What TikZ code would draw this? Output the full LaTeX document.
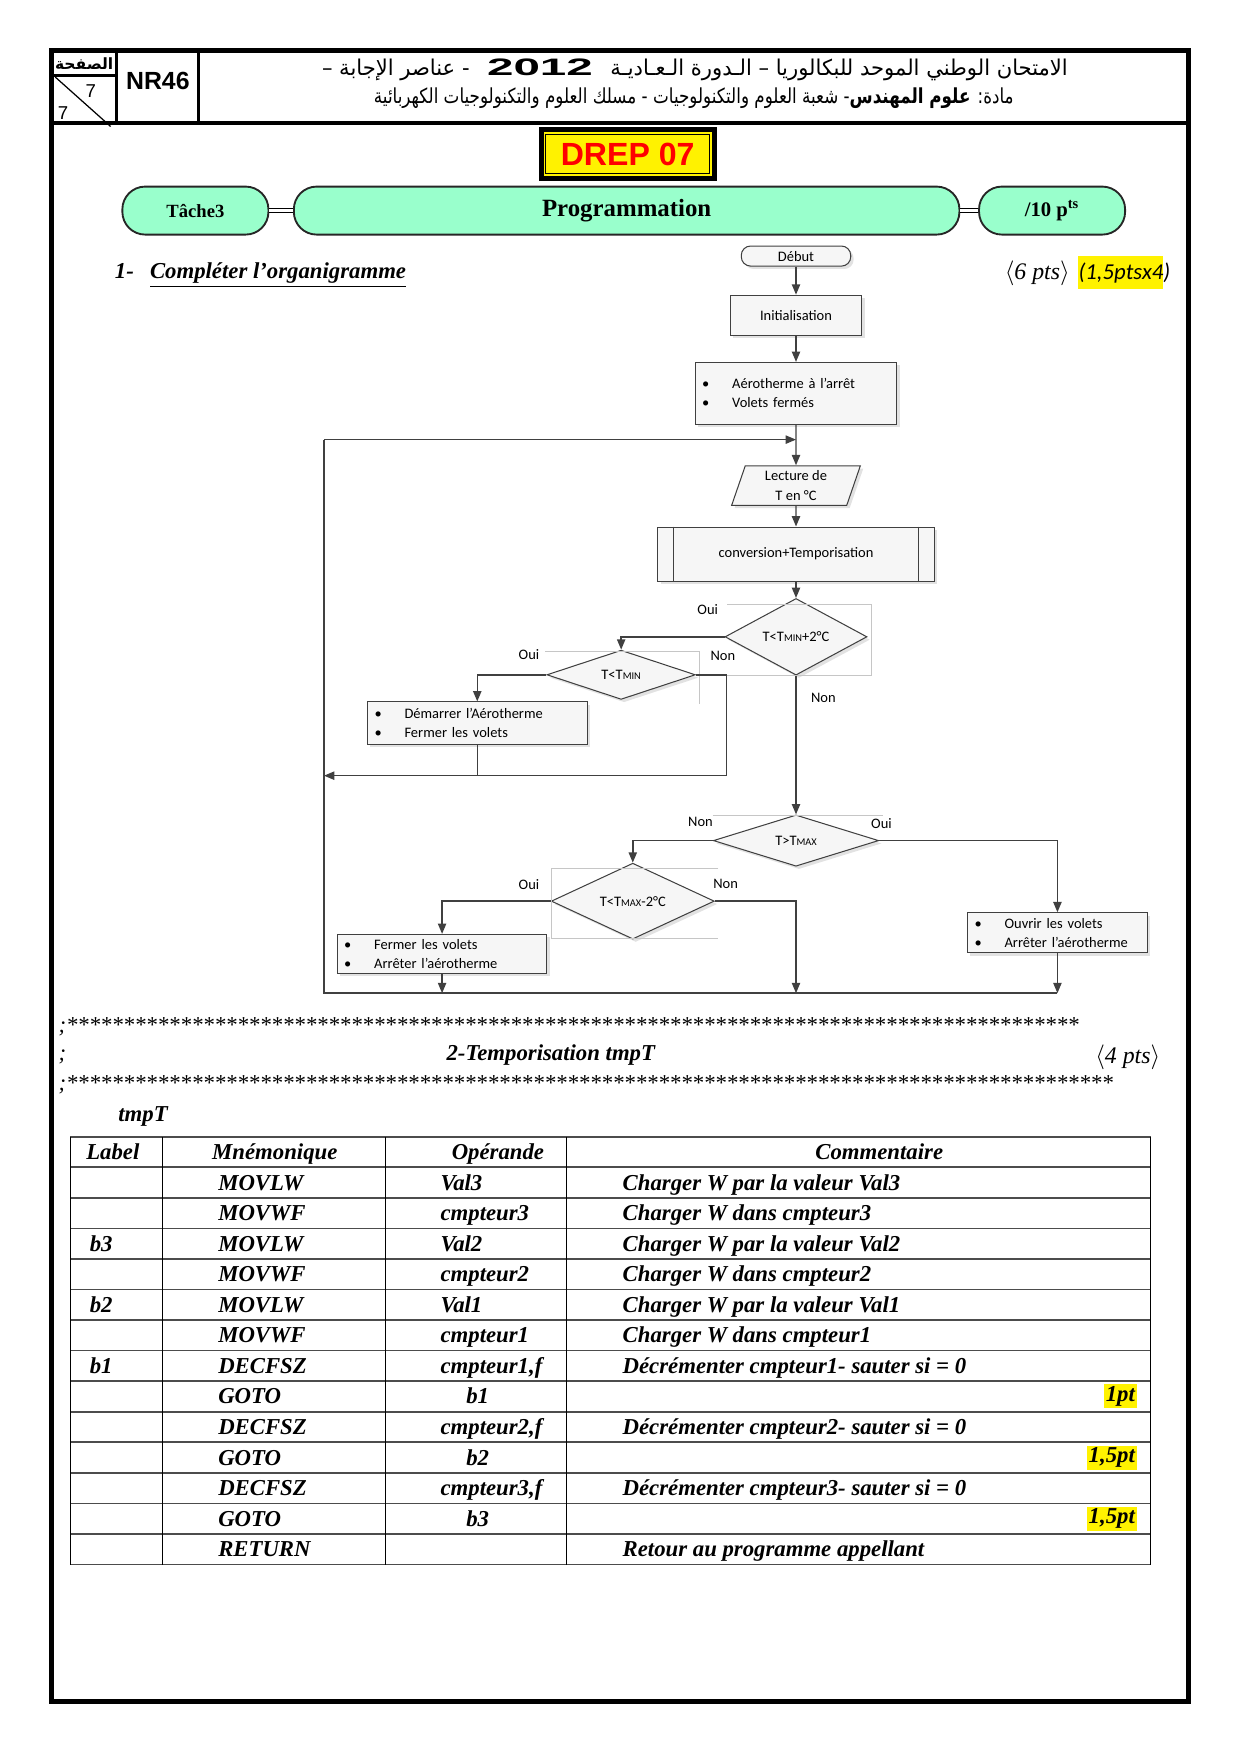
\documentclass[tikz,border=0pt]{standalone}
\usepackage{fontspec}
\usepackage{graphicx}
\setmainfont{Liberation Serif}
\newfontfamily\flowfont{Carlito}
\newfontfamily\arialfont{Liberation Sans}
\newfontfamily\arabicfont[Script=Arabic]{DejaVu Sans}
\TeXXeTstate=1
\usetikzlibrary{arrows.meta,shapes.geometric,shadows}
\definecolor{menthe}{RGB}{153,255,204}
\definecolor{trait}{RGB}{64,64,64}
\newcommand{\puce}[1]{\makebox[14.5pt][l]{\textbullet}#1}
\newcommand{\petit}[1]{{\fontsize{5}{6}\selectfont #1}}
\tikzset{
  fl/.style={trait, line width=0.7pt, -{Triangle[length=5pt,width=4pt]}},
  lien/.style={trait, line width=0.7pt},
  boite/.style={draw=trait, line width=0.5pt, fill=gray!7, inner sep=0pt,
    drop shadow={shadow xshift=1.4pt, shadow yshift=-1.4pt, fill=gray!45},
    font=\flowfont\fontsize{7}{9.2}\selectfont},
  puces/.style={boite, inner xsep=3.4pt, text width=#1, align=left},
  choix/.style={boite, diamond},
  rep/.style={font=\flowfont\fontsize{7}{8}\selectfont, inner sep=0pt},
  cadre/.style={gray!45, line width=0.4pt},
  pilule/.style={draw=black!85, line width=0.9pt, fill=menthe, rounded corners=11pt, minimum height=23.2pt},
  tab/.style={font=\bfseries\itshape\fontsize{11}{13}\selectfont, inner sep=0pt, anchor=base west},
  hligne/.style={black!70, line width=0.8pt},
  vligne/.style={black, line width=0.5pt},
}
\begin{document}
\begin{tikzpicture}[x=0.54pt,y=-0.54pt]
\useasboundingbox (0,0) rectangle (1110,1570);

% cadre et entete
\draw[line width=2.3pt] (46,45) rectangle (1064,1523);
\draw[line width=1.6pt] (46,110) -- (1064,110);
\draw[line width=1.4pt] (104.6,45) -- (104.6,110) (178,45) -- (178,110);
\draw[line width=1.2pt] (46,67.7) -- (104.6,67.7);
\draw[line width=0.6pt] (49.5,69) -- (99,113.2);
\node (page) at (75.3,56.5) {\arabicfont\bfseries\fontsize{7.5}{8}\selectfont\beginR الصفحة\endR};
\node (num1) at (81.3,81.8) {\arialfont\fontsize{9}{10}\selectfont 7};
\node (num2) at (56.5,101.2) {\arialfont\fontsize{9}{10}\selectfont 7};
\node (code) at (141.3,72.8) {\arialfont\bfseries\fontsize{12}{14}\selectfont NR46};
\node (entete1) at (622,62.3) {\arabicfont\fontsize{10.5}{12}\selectfont
  \scalebox{0.97}[1]{\beginR - عناصر الإجابة –\endR}\ \,
  \scalebox{2}[1]{\arialfont\bfseries\fontsize{11.5}{12}\selectfont 2012}\ \,
  \scalebox{0.97}[1]{\beginR الامتحان الوطني الموحد للبكالوريا – الـدورة الـعـاديـة\endR}};
\node (entete2) at (621,88.3) {\scalebox{0.81}[1]{\arabicfont\fontsize{10}{12}\selectfont\beginR مادة: {\bfseries علوم المهندس}- شعبة العلوم والتكنولوجيات - مسلك العلوم والتكنولوجيات الكهربائية\endR}};

% DREP
\filldraw[black] (482.7,114) rectangle (641,161.6);
\filldraw[fill=yellow, draw=black, line width=0.4pt] (486,117.5) rectangle (637.5,158);
\draw[black, line width=0.5pt] (488.5,120) rectangle (635,155.5);
\node (drep) at (561.8,138.6) {\arialfont\bfseries\fontsize{15.5}{17}\selectfont\color{red}DREP 07};

% bandeau
\node[pilule, minimum width=70.6pt] (tache) at (174.9,188.5) {\bfseries\fontsize{9}{10}\selectfont Tâche3};
\node[pilule, minimum width=321.7pt] (prog) at (560.9,188.5) {\bfseries\fontsize{12}{14}\selectfont Programmation};
\node[pilule, minimum width=70.6pt] (note) at (941.7,188.5) {\bfseries\fontsize{10}{12}\selectfont /10 p\textsuperscript{ts}};
\draw[double=white, double distance=1.2pt, line width=0.6pt] (tache) -- (prog);
\draw[double=white, double distance=1.2pt, line width=0.6pt] (prog) -- (note);

\node[anchor=west, inner sep=0pt] (q1) at (102.5,246) {\bfseries\itshape\fontsize{11}{13}\selectfont 1-\hspace{7.8pt}\underline{Compléter l’organigramme}};
\node[anchor=west, inner sep=0pt] (pts1) at (899,244.5) {\fontsize{11.5}{13}\selectfont$\langle$\textit{6 pts}$\rangle$};
\fill[yellow] (964.7,229.2) rectangle (1041,259.1);
\node[anchor=west, inner sep=0pt] (bareme) at (965,244.5) {\flowfont\itshape\fontsize{11}{13}\selectfont (1,5ptsx4)};

% organigramme
\node[boite, rounded corners=4.5pt, minimum width=52.9pt, minimum height=9.7pt] (debut) at (712.5,229.2) {Début};
\node[boite, minimum width=63.7pt, minimum height=19.4pt] (init) at (712.5,282.2) {Initialisation};
\node[puces=90.7pt, minimum height=29.8pt] (etat0) at (712.5,352) {\puce{Aérotherme à l’arrêt}\\\puce{Volets fermés}};
\node[boite, trapezium, trapezium left angle=65, trapezium right angle=115, trapezium stretches body,
  minimum width=62.2pt, minimum height=19.1pt, align=center] (lecture) at (712.5,434.6) {Lecture de\\T en °C};
\node[boite, minimum width=133.6pt, minimum height=26.1pt] (conv) at (712.5,495.9) {conversion+Temporisation};
\draw[trait, line width=0.5pt] ([xshift=7.8pt]conv.north west) -- ([xshift=7.8pt]conv.south west);
\draw[trait, line width=0.5pt] ([xshift=-7.8pt]conv.north east) -- ([xshift=-7.8pt]conv.south east);
\node[choix, minimum width=68.6pt, minimum height=32.4pt] (d1) at (712.5,570) {T<T\petit{MIN}+2°C};
\node[choix, minimum width=71.8pt, minimum height=23.8pt] (d2) at (556,604) {T<T\petit{MIN}};
\node[puces=99.3pt, minimum height=20.4pt] (act1) at (427.2,647.2) {\puce{Démarrer l’Aérotherme}\\\puce{Fermer les volets}};
\node[choix, minimum width=79.9pt, minimum height=24.8pt] (d3) at (712.5,752.4) {T>T\petit{MAX}};
\node[choix, minimum width=78.8pt, minimum height=31.3pt] (d4) at (566.4,806.6) {T<T\petit{MAX}-2°C};
\node[puces=94.6pt, minimum height=18.7pt] (act2) at (395.7,853.7) {\puce{Fermer les volets}\\\puce{Arrêter l’aérotherme}};
\node[puces=80.1pt, minimum height=19.4pt] (act3) at (946.5,835) {\puce{Ouvrir les volets}\\\puce{Arrêter l’aérotherme}};

\draw[cadre] (651,541) -- (779.6,541) -- (779.6,604.6) -- (624.4,604.6);
\draw[cadre] (488,583) -- (626,583) -- (626,629.8);
\draw[cadre] (637.8,729.5) -- (790.3,729.5);
\draw[cadre] (643.1,777.7) -- (493.3,777.7) -- (493.3,839.9) -- (643.1,839.9);

\coordinate (entree) at (712.5,393.5);
\coordinate (retour) at (650.1,694.3);
\coordinate (boucle) at (290,889);

\draw[fl] (debut.south) -- (init.north);
\draw[fl] (init.south) -- (etat0.north);
\draw[fl] (etat0.south) -- (lecture.north);
\draw[fl] (lecture.south) -- (conv.north);
\draw[fl] (conv.south) -- (d1.north);
\draw[fl] (d1.south) -- (d3.north);
\draw[fl] (d1.west) -| (d2.north);
\draw[fl] (d2.west) -| (act1.north);
\draw[lien] (d2.east) -| (retour);
\draw[lien] (act1.south) -- (act1.south |- retour);
\draw[fl] (retour) -- (retour -| boucle);
\draw[fl] (d3.west) -| (d4.north);
\draw[fl] (d3.east) -| (act3.north);
\draw[fl] (d4.west) -| (act2.north);
\draw[fl] (d4.east) -| (d3.south |- boucle);
\draw[fl] (act2.south) -- (act2.south |- boucle);
\draw[fl] (act3.south) -- (act3.south |- boucle);
\draw[lien] (act3.south |- boucle) -- (boucle) -- (boucle |- entree);
\draw[fl] (boucle |- entree) -- (entree);

\node[rep] (oui1) at (633.5,546) {Oui};
\node[rep] (non2) at (647,587.5) {Non};
\node[rep] (oui2) at (473.5,585.5) {Oui};
\node[rep] (non1) at (737,625) {Non};
\node[rep] (non3) at (627,735.5) {Non};
\node[rep] (oui3) at (789,737) {Oui};
\node[rep] (oui4) at (473.5,792) {Oui};
\node[rep] (non4) at (649.5,791) {Non};

% temporisation
\node[anchor=base west, inner sep=0pt] (etoiles1) at (52,924.5) {\itshape\fontsize{11}{13}\selectfont ;\foreach \k in {1,...,89}{*}};
\node[anchor=base west, inner sep=0pt] (pv) at (52,949.5) {\itshape\fontsize{11}{13}\selectfont ;};
\node[anchor=base, inner sep=0pt] (titre2) at (493,949.5) {\bfseries\itshape\fontsize{11}{13}\selectfont 2-Temporisation tmpT};
\node[anchor=base west, inner sep=0pt] (pts2) at (980,952) {\fontsize{11.5}{13}\selectfont$\langle$\textit{4 pts}$\rangle$};
\node[anchor=base west, inner sep=0pt] (etoiles2) at (52,976) {\itshape\fontsize{11}{13}\selectfont ;\foreach \k in {1,...,92}{*}};
\node[tab] (sp) at (105.6,1004) {tmpT};

% tableau
\foreach \i in {0,...,14}
  \draw[hligne] (63,{1017.5+27.35*\i}) -- (1030,{1017.5+27.35*\i});
\foreach \x in {63,145.5,345,507,1030}
  \draw[vligne] (\x,1017.5) -- (\x,1400.4);
\node[tab, anchor=base] at (101,1038) {Label};
\node[tab, anchor=base] at (246,1038) {Mnémonique};
\node[tab] at (404,1038) {Opérande};
\node[tab, anchor=base] at (787,1038) {Commentaire};
\foreach \lab/\mne/\ope/\com [count=\i] in {
  {}/MOVLW/Val3/Charger W par la valeur Val3,
  {}/MOVWF/cmpteur3/Charger W dans cmpteur3,
  b3/MOVLW/Val2/Charger W par la valeur Val2,
  {}/MOVWF/cmpteur2/Charger W dans cmpteur2,
  b2/MOVLW/Val1/Charger W par la valeur Val1,
  {}/MOVWF/cmpteur1/Charger W dans cmpteur1,
  b1/DECFSZ/{cmpteur1,f}/Décrémenter cmpteur1- sauter si = 0,
  {}/GOTO/\hspace*{12.4pt}b1/{},
  {}/DECFSZ/{cmpteur2,f}/Décrémenter cmpteur2- sauter si = 0,
  {}/GOTO/\hspace*{12.4pt}b2/{},
  {}/DECFSZ/{cmpteur3,f}/Décrémenter cmpteur3- sauter si = 0,
  {}/GOTO/\hspace*{12.4pt}b3/{},
  {}/RETURN/{}/Retour au programme appellant}
{
  \node[tab] at (80,{1017.5+27.35*(\i+0.5)+6.7}) {\lab};
  \node[tab] at (195,{1017.5+27.35*(\i+0.5)+6.7}) {\mne};
  \node[tab] at (394,{1017.5+27.35*(\i+0.5)+6.7}) {\ope};
  \node[tab] at (557,{1017.5+27.35*(\i+0.5)+6.7}) {\com};
}
\foreach \i/\p in {8/1pt,10/{1,5pt},12/{1,5pt}}
  \node[tab, anchor=east, fill=yellow, inner sep=1pt] at (1018,{1017.5+27.35*(\i+0.5)}) {\p};
\end{tikzpicture}
\end{document}
